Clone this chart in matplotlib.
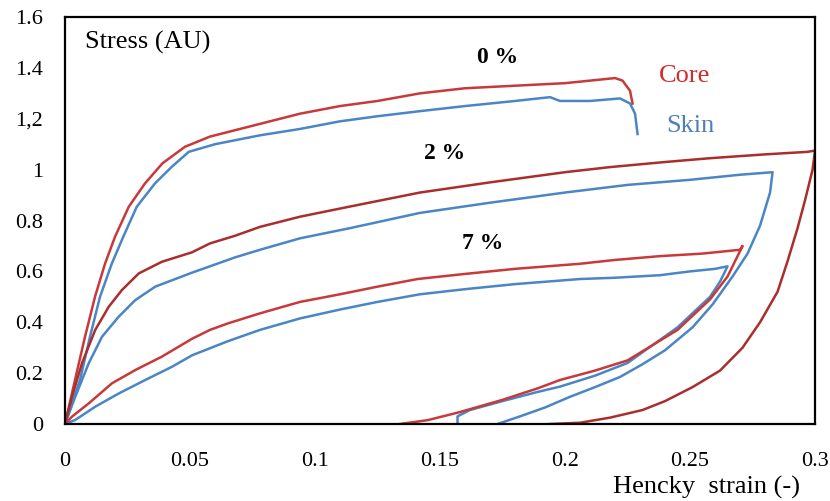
import matplotlib.pyplot as plt

# font: Times-like serif
plt.rcParams['font.family'] = ['Liberation Serif', 'DejaVu Serif']

# 0 % - loading curves
core0_x = [0, 0.004, 0.008, 0.012, 0.016, 0.020, 0.0255, 0.032, 0.039, 0.048, 0.058,
           0.078, 0.094, 0.110, 0.125, 0.142, 0.160, 0.180, 0.200, 0.210, 0.220, 0.223, 0.226, 0.227]
core0_y = [0, 0.173, 0.343, 0.50, 0.63, 0.736, 0.854, 0.946, 1.025, 1.09, 1.13,
           1.18, 1.22, 1.25, 1.27, 1.30, 1.32, 1.33, 1.34, 1.35, 1.36, 1.35, 1.31, 1.26]
skin0_x = [0, 0.006, 0.010, 0.014, 0.0187, 0.0233, 0.0287, 0.036, 0.0428, 0.0495, 0.060,
           0.078, 0.094, 0.110, 0.125, 0.142, 0.160, 0.180, 0.194, 0.198, 0.210, 0.222, 0.226, 0.228, 0.229]
skin0_y = [0, 0.173, 0.343, 0.50, 0.63, 0.736, 0.854, 0.946, 1.012, 1.07, 1.10,
           1.135, 1.16, 1.19, 1.21, 1.23, 1.25, 1.27, 1.285, 1.27, 1.27, 1.28, 1.26, 1.22, 1.14]

# 2 % - loading + unloading
core2_x = [0, 0.0028, 0.0068, 0.0121, 0.0175, 0.0228, 0.0295, 0.0388, 0.0508, 0.058, 0.068,
           0.078, 0.094, 0.114, 0.142, 0.170, 0.200, 0.218, 0.240, 0.258, 0.280, 0.297, 0.300,
           0.299, 0.296, 0.293, 0.289, 0.285, 0.278, 0.271, 0.262, 0.251, 0.240, 0.231, 0.218, 0.206, 0.194]
core2_y = [0, 0.107, 0.239, 0.37, 0.461, 0.527, 0.592, 0.638, 0.675, 0.71, 0.74,
           0.775, 0.815, 0.855, 0.91, 0.95, 0.99, 1.01, 1.03, 1.045, 1.06, 1.07, 1.075,
           1.00, 0.88, 0.77, 0.64, 0.52, 0.40, 0.30, 0.21, 0.145, 0.09, 0.055, 0.025, 0.005, 0.0]
skin2_x = [0, 0.0041, 0.0095, 0.0148, 0.0215, 0.0281, 0.0361, 0.0508, 0.058, 0.068,
           0.078, 0.094, 0.114, 0.142, 0.170, 0.200, 0.225, 0.250, 0.270, 0.283,
           0.282, 0.278, 0.273, 0.267, 0.259, 0.251, 0.240, 0.231, 0.222, 0.212, 0.202, 0.192, 0.182, 0.173]
skin2_y = [0, 0.107, 0.239, 0.343, 0.422, 0.487, 0.54, 0.595, 0.62, 0.655,
           0.685, 0.73, 0.77, 0.83, 0.87, 0.91, 0.94, 0.96, 0.98, 0.99,
           0.91, 0.78, 0.67, 0.58, 0.47, 0.38, 0.29, 0.235, 0.185, 0.145, 0.107, 0.065, 0.03, 0.0]

# 7 % - loading + unloading
core7_x = [0, 0.0028, 0.0095, 0.0188, 0.0281, 0.0388, 0.0508, 0.058, 0.065, 0.078, 0.094,
           0.110, 0.125, 0.141, 0.160, 0.180, 0.206, 0.220, 0.238, 0.255, 0.270, 0.271,
           0.268, 0.265, 0.258, 0.245, 0.235, 0.225, 0.212, 0.198, 0.189, 0.175, 0.158, 0.145, 0.134]
core7_y = [0, 0.029, 0.081, 0.16, 0.212, 0.265, 0.335, 0.37, 0.395, 0.435, 0.48,
           0.51, 0.54, 0.57, 0.59, 0.61, 0.63, 0.645, 0.66, 0.67, 0.685, 0.70,
           0.64, 0.58, 0.49, 0.37, 0.31, 0.25, 0.21, 0.173, 0.14, 0.095, 0.047, 0.015, 0.0]
skin7_x = [0, 0.0041, 0.0121, 0.0215, 0.0321, 0.0428, 0.0508, 0.065, 0.078, 0.094, 0.110,
           0.125, 0.142, 0.160, 0.180, 0.206, 0.220, 0.238, 0.250, 0.260, 0.265,
           0.262, 0.258, 0.245, 0.235, 0.225, 0.212, 0.198, 0.189, 0.175, 0.162, 0.157, 0.157]
skin7_y = [0, 0.016, 0.068, 0.12, 0.173, 0.225, 0.27, 0.325, 0.37, 0.415, 0.45,
           0.48, 0.51, 0.53, 0.55, 0.57, 0.575, 0.585, 0.60, 0.61, 0.62,
           0.56, 0.50, 0.38, 0.31, 0.24, 0.19, 0.147, 0.126, 0.09, 0.055, 0.03, 0.0]

x_ticks = [0, 0.05, 0.1, 0.15, 0.2, 0.25, 0.3]
x_labels = ['0', '0.05', '0.1', '0.15', '0.2', '0.25', '0.3']
y_ticks = [0, 0.2, 0.4, 0.6, 0.8, 1.0, 1.2, 1.4, 1.6]
y_labels = ['0', '0.2', '0.4', '0.6', '0.8', '1', '1,2', '1.4', '1.6']

red = '#C8393A'
dark_red = '#A92E2C'
blue = '#4A86C6'

fig = plt.figure(figsize=(8.3, 5.01), dpi=100)
ax = fig.add_axes([0.0783, 0.1537, 0.9037, 0.8123])

lw = 1.8
ax.plot(skin0_x, skin0_y, color=blue, lw=lw)
ax.plot(core0_x, core0_y, color=red, lw=lw)
ax.plot(skin2_x, skin2_y, color=blue, lw=lw)
ax.plot(core2_x, core2_y, color=dark_red, lw=lw)
ax.plot(skin7_x, skin7_y, color=blue, lw=lw)
ax.plot(core7_x, core7_y, color=red, lw=lw)

ax.set_xlim(0, 0.3)
ax.set_ylim(0, 1.6)
ax.set_xticks(x_ticks)
ax.set_xticklabels(x_labels)
ax.set_yticks(y_ticks)
ax.set_yticklabels(y_labels)
ax.tick_params(axis='both', length=0, labelsize=16)
ax.tick_params(axis='x', pad=20)
ax.tick_params(axis='y', pad=16)
for s in ax.spines.values():
    s.set_linewidth(1.6)
    s.set_color('black')

ax.text(0.008, 1.5, 'Stress (AU)', fontsize=19, ha='left', va='center')
ax.text(0.173, 1.44, '0 %', fontsize=17, fontweight='bold', ha='center', va='center')
ax.text(0.152, 1.065, '2 %', fontsize=17, fontweight='bold', ha='center', va='center')
ax.text(0.167, 0.71, '7 %', fontsize=17, fontweight='bold', ha='center', va='center')
ax.text(0.248, 1.37, 'Core', fontsize=19, color='#D42A2A', ha='center', va='center')
ax.text(0.25, 1.17, 'Skin', fontsize=19, color='#4F7FB8', ha='center', va='center')

fig.text(0.851, 0.028, 'Hencky  strain (-)', fontsize=19, ha='center', va='center')

fig.savefig('out.png', dpi=100)
